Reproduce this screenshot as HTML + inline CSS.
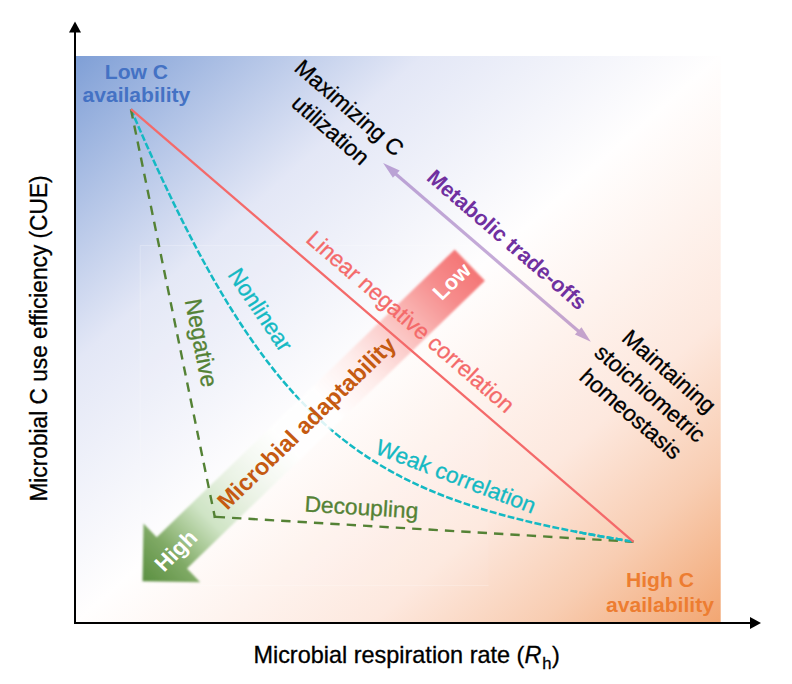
<!DOCTYPE html>
<html>
<head>
<meta charset="utf-8">
<title>Microbial CUE vs respiration rate</title>
<style>
  html, body { margin: 0; padding: 0; background: #ffffff; }
  body { width: 792px; height: 684px; overflow: hidden; font-family: "Liberation Sans", sans-serif; }
  svg { display: block; }
  text { font-family: "Liberation Sans", sans-serif; }
  .b { font-weight: bold; }
</style>
</head>
<body>
<svg width="792" height="684" viewBox="0 0 792 684">
  <defs>
    <!-- plot-area background: blue (top-left) -> white -> orange (bottom-right) -->
    <linearGradient id="bg" x1="0" y1="0" x2="1" y2="1">
      <stop offset="0" stop-color="rgb(127,159,214)"/>
      <stop offset="0.27" stop-color="rgb(227,231,246)"/>
      <stop offset="0.5" stop-color="rgb(255,254,254)"/>
      <stop offset="0.73" stop-color="rgb(253,232,222)"/>
      <stop offset="0.86" stop-color="rgb(248,205,178)"/>
      <stop offset="1" stop-color="rgb(242,166,114)"/>
    </linearGradient>
    <!-- block arrow gradient: red tail -> white -> green head -->
    <linearGradient id="arr" gradientUnits="userSpaceOnUse" x1="469.8" y1="265.1" x2="142.5" y2="581.2">
      <stop offset="0" stop-color="rgb(244,118,118)"/>
      <stop offset="0.08" stop-color="rgb(246,140,140)"/>
      <stop offset="0.16" stop-color="rgb(249,175,173)"/>
      <stop offset="0.24" stop-color="rgb(252,208,206)"/>
      <stop offset="0.33" stop-color="rgb(254,235,233)" stop-opacity="0.9"/>
      <stop offset="0.44" stop-color="rgb(255,255,255)" stop-opacity="0.85"/>
      <stop offset="0.56" stop-color="rgb(255,255,255)" stop-opacity="0.85"/>
      <stop offset="0.64" stop-color="rgb(244,248,241)" stop-opacity="0.9"/>
      <stop offset="0.72" stop-color="rgb(230,240,224)"/>
      <stop offset="0.80" stop-color="rgb(207,228,197)"/>
      <stop offset="0.86" stop-color="rgb(165,198,145)"/>
      <stop offset="0.91" stop-color="rgb(128,170,102)"/>
      <stop offset="1" stop-color="rgb(90,143,64)"/>
    </linearGradient>
    <clipPath id="tipclip"><rect x="575" y="520" width="70" height="30"/></clipPath>
    <filter id="soft" x="-5%" y="-5%" width="110%" height="110%">
      <feGaussianBlur stdDeviation="1"/>
    </filter>
  </defs>

  <!-- plot background -->
  <rect x="75" y="56" width="645.7" height="567" fill="url(#bg)"/>
  <!-- faint leftover text-box outline visible in the source figure -->
  <rect x="140.2" y="245.5" width="348.4" height="340" fill="rgba(255,255,255,0.05)"/>
  <path d="M488.6,245.5 H140.2 V585.5 H488.6" fill="none" stroke="rgba(255,255,255,0.24)" stroke-width="1"/>

  <!-- dashed cyan curve: nonlinear / weak correlation -->
  <path d="M130.9,109.1 C274.4,443.4 370.2,499.3 633.5,541.8" fill="none" stroke="#14b9c3" stroke-width="2.5" stroke-dasharray="6.9 2.3"/>

  <!-- block arrow (Low -> High) -->
  <polygon id="blockarrow" filter="url(#soft)" fill="url(#arr)"
     points="142.5,581.2 143.5,523.5 156.7,537.2 454.7,249.5 484.9,280.8 187.0,568.5 200.2,582.2"/>

  <!-- dashed green: negative / decoupling -->
<g fill="none" stroke="#548235" stroke-width="2.4" stroke-dasharray="9.35 7.05">
    <line x1="215" y1="517.9" x2="130.9" y2="109.1" stroke-dashoffset="2.3"/>
    <line x1="213.8" y1="516.75" x2="216.2" y2="516.9" stroke-dasharray="none"/>
    <line x1="215.7" y1="516.85" x2="633.5" y2="541.8"/>
  </g>

  <!-- cyan end segment sits above the green dashes at the convergence point -->
  <path clip-path="url(#tipclip)" d="M130.9,109.1 C274.4,443.4 370.2,499.3 633.5,541.8" fill="none" stroke="#14b9c3" stroke-width="2.5" stroke-dasharray="6.9 2.3"/>

  <!-- solid red line -->
  <line x1="130.9" y1="109.1" x2="633.5" y2="541.8" stroke="#f46a6a" stroke-width="2.3"/>

  <!-- purple double arrow -->
  <g fill="#7030a0" stroke="none" opacity="0.4">
    <line x1="394" y1="172.5" x2="580" y2="332.5" stroke="#7030a0" stroke-width="3.2"/>
    <polygon points="383.1,163.1 399.7,170.6 392.9,177.7"/>
    <polygon points="590.8,341.8 581.5,327.2 574.9,334.5"/>
  </g>

  <!-- axes -->
  <line x1="75" y1="30" x2="75" y2="624" stroke="#000" stroke-width="2"/>
  <line x1="74" y1="623" x2="752" y2="623" stroke="#000" stroke-width="2"/>
  <polygon points="75,21.5 69,32.5 81,32.5" fill="#000"/>
  <polygon points="761,623 750,617 750,629" fill="#000"/>

  <!-- corner labels -->
  <g class="b" font-size="20.3" text-anchor="middle">
    <g transform="translate(136.4,78.6) scale(1.04,1.02)" fill="#4472c4">
      <text x="0" y="0">Low C</text>
      <text x="0" y="22.7">availability</text>
    </g>
    <g transform="translate(660,586.8) scale(1.04,1.02)" fill="#ed7d31">
      <text x="0" y="0">High C</text>
      <text x="0" y="24.5">availability</text>
    </g>
  </g>

  <!-- rotated labels (image is stretched ~4% horizontally) -->
  <g font-size="21.9" text-anchor="middle" stroke-width="0.3">
    <g stroke="#000" transform="translate(344,113.5) scale(1.04,1) rotate(41.81) scale(1,1.02)">
      <text x="0" y="0">Maximizing C</text>
      <text x="1.5" y="28">utilization</text>
    </g>
    <g stroke="#000" transform="translate(663.8,377.1) scale(1.04,1) rotate(41.81) scale(1,1.02)">
      <text x="0" y="0">Maintaining</text>
      <text x="1" y="28">stoichiometric</text>
      <text x="1" y="55">homeostasis</text>
    </g>
    <text class="b" font-size="20.8" fill="#7030a0" transform="translate(502,245.2) scale(1.04,1) rotate(41.81) scale(1,1.02)">Metabolic trade-offs</text>
    <text font-size="22" fill="#f46a6a" stroke="#f46a6a" transform="translate(405.3,327.4) scale(1.04,1) rotate(41.81) scale(1,1.02)">Linear negative correlation</text>
    <text fill="#14b9c3" stroke="#14b9c3" transform="translate(253.7,313.85) scale(1.04,1) rotate(56.74) scale(1,1.02)">Nonlinear</text>
    <text font-size="22.6" fill="#548235" stroke="#548235" transform="translate(193.4,344.3) scale(1.04,1) rotate(79.4) scale(1,1.02)">Negative</text>
    <text fill="#14b9c3" stroke="#14b9c3" transform="translate(453,483.5) scale(1.04,1) rotate(21.76) scale(1,1.02)">Weak correlation</text>
    <text fill="#548235" stroke="#548235" transform="translate(361,515) scale(1.04,1) rotate(3.54) scale(1,1.02)">Decoupling</text>
    <text class="b" font-size="22.7" fill="#c55a11" transform="translate(312.3,428.7) scale(1.04,1) rotate(-45.12) scale(1,1.02)">Microbial adaptability</text>
    <text class="b" font-size="20.8" fill="#ffffff" transform="translate(457,286.5) scale(1.04,1) rotate(-45.12) scale(1,1.02)">Low</text>
    <text class="b" font-size="21.4" fill="#ffffff" transform="translate(181.35,555.85) scale(1.04,1) rotate(-45.12) scale(1,1.02)">High</text>
  </g>

  <!-- axis titles -->
  <text font-size="22.7" text-anchor="middle" stroke="#000" stroke-width="0.3" transform="translate(47.1,338.5) scale(1.04,1) rotate(-90) scale(1,1.02)">Microbial C use efficiency (CUE)</text>
  <text font-size="22.55" stroke="#000" stroke-width="0.3" transform="translate(253.4,663) scale(1.04,1.02)">Microbial respiration rate (<tspan font-style="italic">R</tspan><tspan font-size="16" dx="0.8" dy="5.6">h</tspan><tspan font-size="22.55" dx="0.6" dy="-5.6">)</tspan></text>
</svg>
</body>
</html>
